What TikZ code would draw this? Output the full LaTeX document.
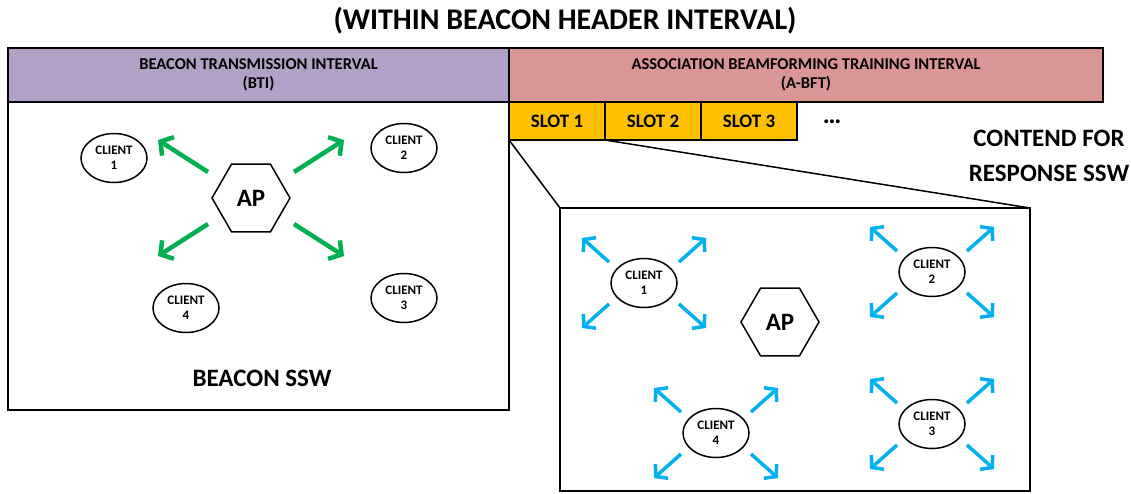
\documentclass[tikz,border=0pt]{standalone}
\usepackage{fontspec}
\setmainfont{Carlito}
\usetikzlibrary{shapes.geometric,arrows.meta,positioning}

\definecolor{btipurple}{HTML}{B2A1C7}
\definecolor{abftrose}{HTML}{D99694}
\definecolor{slotgold}{HTML}{FFC000}
\definecolor{beamgreen}{HTML}{00B050}
\definecolor{beamcyan}{HTML}{00B0F0}

\tikzset{
	hdr/.style={draw, line width=1.2pt, minimum height=54pt, inner sep=0pt, outer sep=0pt, align=center, font=\fontsize{16.5}{19}\selectfont\bfseries},
	slotbox/.style={draw, fill=slotgold, line width=1.2pt, minimum width=96pt, minimum height=38pt, inner sep=0pt, outer sep=0pt, font=\fontsize{19}{21}\selectfont\bfseries},
	panel/.style={draw, line width=1.8pt, inner sep=0pt, outer sep=0pt},
	client/.style={ellipse, draw, line width=1.5pt, minimum width=66pt, minimum height=49pt, inner sep=0pt, align=center, font=\fontsize{13}{15}\selectfont\bfseries},
	apnode/.style={regular polygon, regular polygon sides=6, draw, line width=1.5pt, minimum size=78pt, inner sep=0pt, font=\fontsize{25}{27}\selectfont\bfseries},
	greenbeam/.style={draw=beamgreen, line width=4.5pt, -{Straight Barb[length=9pt,width=22pt]}},
	cyanbeam/.style={draw=beamcyan, line width=3.5pt, -{Straight Barb[length=8pt,width=19pt]}}
}

\begin{document}
\begin{tikzpicture}[x=1pt,y=-1pt]
		\useasboundingbox (0,0) rectangle (1131,493);
		
		% Title
		\node[font=\fontsize{30}{34}\selectfont\bfseries] (title) at (565,21) {(WITHIN BEACON HEADER INTERVAL)};
		
		% Interval bars
		\node[hdr, fill=btipurple, minimum width=501pt] (bti) at (258.5,75) {BEACON TRANSMISSION INTERVAL\\(BTI)};
		\node[hdr, fill=abftrose, minimum width=594pt, right=0pt of bti] (abft) {ASSOCIATION BEAMFORMING TRAINING INTERVAL\\(A-BFT)};
		
		% Slots
		\node[slotbox, anchor=north west] (slot1) at (abft.south west) {SLOT 1};
		\node[slotbox, right=0pt of slot1] (slot2) {SLOT 2};
		\node[slotbox, right=0pt of slot2] (slot3) {SLOT 3};
		\node[font=\fontsize{26}{28}\selectfont\bfseries] (dots) at (832,122) {\dots};
		
		% Beacon panel
		\node[panel, minimum width=501pt, minimum height=308pt, below=0pt of bti] (lbox) {};
		\node[apnode] (apl) at (251,198) {AP};
		\node[client] (lc1) at (114,158) {CLIENT\\1};
		\node[client] (lc2) at (404,148) {CLIENT\\2};
		\node[client] (lc3) at (404,298) {CLIENT\\3};
		\node[client] (lc4) at (186,308) {CLIENT\\4};
		\foreach \sx/\sy in {-1/-1,1/-1,-1/1,1/1}
			\draw[greenbeam] ([shift={(\sx*43,\sy*26)}]apl.center) -- ([shift={(\sx*93,\sy*58)}]apl.center);
		\node[font=\fontsize{25}{29}\selectfont\bfseries] (bssw) at (262,378) {BEACON SSW};
		
		% Response panel
		\node[panel, minimum width=470pt, minimum height=283pt] (rbox) at (795,349.5) {};
		\draw[line width=1.5pt] (slot1.south west) -- (rbox.north west);
		\draw[line width=1.5pt] (slot1.south east) -- (rbox.north east);
		\node[font=\fontsize{25}{35}\selectfont\bfseries, align=center] (contend) at (1049,156) {CONTEND FOR\\RESPONSE SSW};
		\node[apnode] (apr) at (780,322) {AP};
		\node[client] (rc1) at (644,283) {CLIENT\\1};
		\node[client] (rc2) at (932,272) {CLIENT\\2};
		\node[client] (rc3) at (932,424) {CLIENT\\3};
		\node[client] (rc4) at (716,433) {CLIENT\\4};
		\foreach \c in {rc1,rc2,rc3,rc4}
			\foreach \sx/\sy in {-1/-1,1/-1,-1/1,1/1}
				\draw[cyanbeam] ([shift={(\sx*35,\sy*21)}]\c.center) -- ([shift={(\sx*62,\sy*45)}]\c.center);
		
	\end{tikzpicture}
\end{document}
